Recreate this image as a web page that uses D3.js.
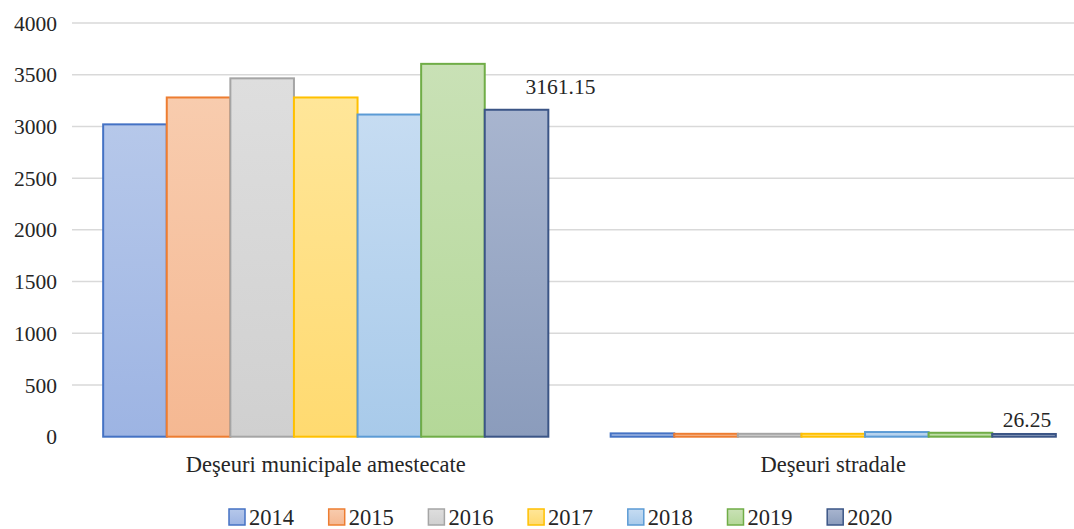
<!DOCTYPE html>
<html>
<head>
<meta charset="utf-8">
<script src="https://cdn.jsdelivr.net/npm/d3@7"></script>
<style>
  body { margin: 0; background: #fff; }
</style>
</head>
<body>
<svg id="chart" width="1074" height="529"></svg>
<script>
// data
var categories = ["Deşeuri municipale amestecate", "Deşeuri stradale"];
var years = ["2014", "2015", "2016", "2017", "2018", "2019", "2020"];
var municipale = [3020, 3280, 3465, 3280, 3115, 3605, 3161.15];
var stradale = [32, 28, 28, 28, 45, 38, 26.25];
var yTicks = [0, 500, 1000, 1500, 2000, 2500, 3000, 3500, 4000];

var topColors = ["#b6c8ea", "#f8ccae", "#dedede", "#ffe699", "#c6dcf2", "#c9e1b6", "#a8b5cf"];
var botColors = ["#9db4e3", "#f5b892", "#d0d0d0", "#ffda70", "#a8caea", "#b4d898", "#8b9cbc"];
var strokes = ["#4472c4", "#ed7d31", "#a5a5a5", "#ffc000", "#5b9bd5", "#70ad47", "#3b5586"];

var serif = "'Liberation Serif', 'DejaVu Serif', serif";

var svg = d3.select("#chart"),
    width = +svg.attr("width"),
    height = +svg.attr("height");

var values = [municipale, stradale];

var x0 = d3.scaleBand().domain(categories).range([72, 1087]).padding(0);
var x1 = d3.scaleBand().domain(years).range([0, x0.bandwidth()]).paddingInner(0).paddingOuter(0.49);
var y = d3.scaleLinear().domain([0, 4000]).range([436.7, 23]);

// gradients
var defs = svg.append("defs");
years.forEach(function (yr, i) {
  var g = defs.append("linearGradient").attr("id", "grad" + i)
      .attr("x1", 0).attr("y1", 0).attr("x2", 0).attr("y2", 1);
  g.append("stop").attr("offset", "0%").attr("stop-color", topColors[i]);
  g.append("stop").attr("offset", "100%").attr("stop-color", botColors[i]);
});

// gridlines
svg.append("g").selectAll("line")
  .data(yTicks.filter(function (d) { return d > 0; }))
  .enter().append("line")
  .attr("x1", 72).attr("x2", width)
  .attr("y1", function (d) { return y(d); }).attr("y2", function (d) { return y(d); })
  .attr("stroke", "#d9d9d9").attr("stroke-width", 1.5);

// y labels
svg.append("g").selectAll("text")
  .data(yTicks).enter().append("text")
  .attr("class", "tick")
  .attr("x", 57).attr("y", function (d) { return y(d); })
  .attr("dy", "0.35em").attr("text-anchor", "end")
  .text(function (d) { return d; });

// bars
var groups = svg.append("g").selectAll("g")
  .data(categories).enter().append("g")
  .attr("transform", function (d) { return "translate(" + x0(d) + ",0)"; });

groups.selectAll("rect")
  .data(function (d, ci) { return years.map(function (yr, i) { return {yr: yr, i: i, v: values[ci][i]}; }); })
  .enter().append("rect")
  .attr("x", function (d) { return x1(d.yr); })
  .attr("y", function (d) { return y(d.v); })
  .attr("width", x1.bandwidth())
  .attr("height", function (d) { return y(0) - y(d.v); })
  .attr("fill", function (d) { return "url(#grad" + d.i + ")"; })
  .attr("stroke", function (d) { return strokes[d.i]; })
  .attr("stroke-width", 2);

// data labels for 2020
svg.append("text")
  .attr("class", "tick")
  .attr("x", x0(categories[0]) + x1("2020") + x1.bandwidth() / 2 + 44)
  .attr("y", y(municipale[6]) - 16)
  .attr("text-anchor", "middle")
  .text("3161.15");
svg.append("text")
  .attr("class", "tick")
  .attr("x", x0(categories[1]) + x1("2020") + x1.bandwidth() / 2 + 3)
  .attr("y", y(stradale[6]) - 7)
  .attr("text-anchor", "middle")
  .text("26.25");

// category labels
svg.append("g").selectAll("text")
  .data(categories).enter().append("text")
  .attr("x", function (d) { return x0(d) + x0.bandwidth() / 2; })
  .attr("y", 472)
  .attr("text-anchor", "middle")
  .text(function (d) { return d; });

// legend
var legend = svg.append("g").selectAll("g")
  .data(years).enter().append("g")
  .attr("transform", function (d, i) { return "translate(" + (229 + i * 99.7) + ",509)"; });
legend.append("rect")
  .attr("width", 16).attr("height", 16)
  .attr("fill", function (d, i) { return "url(#grad" + i + ")"; })
  .attr("stroke", function (d, i) { return strokes[i]; })
  .attr("stroke-width", 1.5);
legend.append("text")
  .attr("x", 20).attr("y", 8).attr("dy", "0.35em")
  .text(function (d) { return d; });

svg.selectAll("text")
  .style("font-family", serif)
  .style("font-size", "22.5px")
  .style("fill", "#262626");
svg.selectAll("text.tick").style("font-size", "21.5px");
</script>
</body>
</html>
